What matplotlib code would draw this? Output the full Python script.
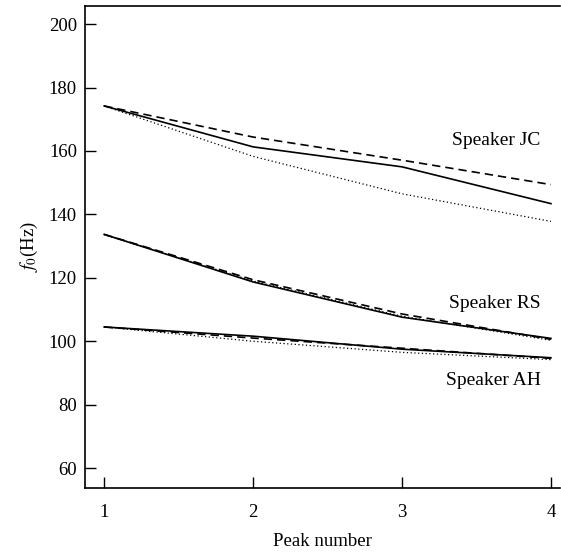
import matplotlib.pyplot as plt

# Peak number on the x axis
peaks = [1, 2, 3, 4]

# f0 (Hz) per speaker, three conditions each (solid, dashed, dotted)
jc_solid = [174.2, 161.3, 155.0, 143.4]
jc_dashed = [174.2, 164.4, 157.1, 149.4]
jc_dotted = [174.2, 158.3, 146.5, 137.8]

rs_solid = [133.7, 118.7, 107.6, 100.9]
rs_dashed = [133.7, 119.4, 108.6, 100.6]
rs_dotted = [133.7, 119.0, 107.9, 100.3]

ah_solid = [104.5, 101.6, 97.5, 94.8]
ah_dashed = [104.5, 101.0, 97.8, 94.6]
ah_dotted = [104.5, 100.0, 96.5, 94.2]

speaker_labels = ["Speaker JC", "Speaker RS", "Speaker AH"]
label_y = [163.4, 111.9, 87.6]

plt.rcParams["font.family"] = ["Liberation Serif", "DejaVu Serif"]
plt.rcParams["mathtext.fontset"] = "stix"

fig = plt.figure(figsize=(5.61, 5.53), dpi=100)
ax = fig.add_axes([0.152, 0.118, 0.846, 0.871])

for solid, dashed, dotted in [
    (jc_solid, jc_dashed, jc_dotted),
    (rs_solid, rs_dashed, rs_dotted),
    (ah_solid, ah_dashed, ah_dotted),
]:
    ax.plot(peaks, solid, color="black", linewidth=1.2, linestyle="-")
    ax.plot(peaks, dashed, color="black", linewidth=1.2, linestyle=(0, (5, 3)))
    ax.plot(peaks, dotted, color="black", linewidth=0.9, linestyle=(0, (1, 2)))

for text, y in zip(speaker_labels, label_y):
    ax.text(3.93, y, text, ha="right", va="center", fontsize=14)

ax.set_xlim(0.873, 4.06)
ax.set_ylim(53.8, 205.7)
ax.set_xticks(peaks)
ax.set_yticks([60, 80, 100, 120, 140, 160, 180, 200])

ax.spines["right"].set_visible(False)
for side in ["left", "bottom", "top"]:
    ax.spines[side].set_linewidth(1.2)

ax.tick_params(axis="x", direction="in", length=8, width=1.0, pad=12, labelsize=13.5)
ax.tick_params(axis="y", direction="in", length=8, width=1.0, pad=6, labelsize=13.5)

ax.set_xlabel("Peak number", fontsize=13.5, labelpad=8)
ax.set_ylabel(r"$f_0$(Hz)", fontsize=13.5, labelpad=6)

fig.savefig("out.png", dpi=100)
